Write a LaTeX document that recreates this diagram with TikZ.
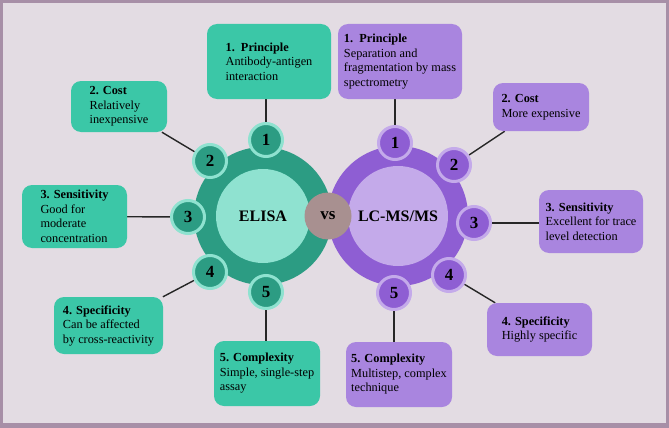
\documentclass[tikz,border=0pt]{standalone}
\usepackage{fontspec}
\setmainfont{Liberation Serif}
\usetikzlibrary{backgrounds}

\definecolor{frameclr}{RGB}{167,143,167}
\definecolor{bgclr}{RGB}{227,220,227}
\definecolor{elbox}{RGB}{59,199,167}
\definecolor{elring}{RGB}{44,156,131}
\definecolor{elcore}{RGB}{143,226,208}
\definecolor{lcbox}{RGB}{169,133,223}
\definecolor{lcring}{RGB}{142,94,211}
\definecolor{lccore}{RGB}{196,170,234}
\definecolor{vsclr}{RGB}{168,144,144}

\begin{document}
\begin{tikzpicture}[
    x=1pt, y=-1pt,
    elcard/.style={fill=elbox, rounded corners=10pt, align=left, inner sep=0pt,
        font=\fontsize{12.3}{14.5}\selectfont},
    lccard/.style={fill=lcbox, rounded corners=10pt, align=left, inner sep=0pt,
        font=\fontsize{12.3}{14.5}\selectfont},
    elnum/.style={circle, fill=elring, draw=elcore, line width=3pt, minimum size=33pt,
        inner sep=0pt, font=\bfseries\fontsize{17}{17}\selectfont},
    lcnum/.style={circle, fill=lcring, draw=lccore, line width=3pt, minimum size=33pt,
        inner sep=0pt, font=\bfseries\fontsize{17}{17}\selectfont},
    link/.style={line width=1.4pt, draw=black!85}
]
\useasboundingbox (0,0) rectangle (669,428);

% Central circles
\node[circle, fill=elring, minimum size=138pt, inner sep=0pt] (elisa_ring) at (263,216) {};
\node[circle, fill=elcore, minimum size=94pt, inner sep=0pt, font=\bfseries\fontsize{16}{16}\selectfont] (elisa) at (263,216) {ELISA};
\node[circle, fill=lcring, minimum size=140pt, inner sep=0pt] (lcms_ring) at (398,216) {};
\node[circle, fill=lccore, minimum size=100pt, inner sep=0pt, font=\bfseries\fontsize{16}{16}\selectfont] (lcms) at (398,216) {LC-MS/MS};
\node[circle, fill=vsclr, minimum size=47pt, inner sep=0pt, font=\bfseries\fontsize{17}{17}\selectfont] (vs) at (328,216) {vs};

% Numbered markers
\node[elnum] (en1) at (266,140) {1};
\node[elnum] (en2) at (210,161) {2};
\node[elnum] (en3) at (188,217) {3};
\node[elnum] (en4) at (210,272) {4};
\node[elnum] (en5) at (266,292) {5};

\node[lcnum] (ln1) at (395,143) {1};
\node[lcnum] (ln2) at (454,165) {2};
\node[lcnum] (ln3) at (474,223) {3};
\node[lcnum] (ln4) at (449,275) {4};
\node[lcnum] (ln5) at (394,293) {5};

% ELISA cards
\node[elcard, minimum width=124pt, minimum height=75pt] (ep1) at (269,61.5)
    {\textbf{1.\enspace Principle}\\Antibody-antigen\\interaction};
\node[elcard, minimum width=96pt, minimum height=51pt] (ep2) at (119,106.5)
    {\textbf{2. Cost}\\Relatively\\inexpensive};
\node[elcard, minimum width=105pt, minimum height=63pt] (ep3) at (74.5,216.5)
    {\textbf{3. Sensitivity}\\Good for\\moderate\\concentration};
\node[elcard, minimum width=109pt, minimum height=57pt] (ep4) at (108.5,325.5)
    {\textbf{4. Specificity}\\Can be affected\\by cross-reactivity};
\node[elcard, minimum width=106pt, minimum height=65pt] (ep5) at (267,373.5)
    {\textbf{5. Complexity}\\Simple, single-step\\assay};

% LC-MS/MS cards
\node[lccard, minimum width=124pt, minimum height=75pt] (lp1) at (400,61.5)
    {\textbf{1.\enspace Principle}\\Separation and\\fragmentation by mass\\spectrometry};
\node[lccard, minimum width=96pt, minimum height=48pt] (lp2) at (541,107)
    {\textbf{2. Cost}\\More expensive};
\node[lccard, minimum width=104pt, minimum height=63pt] (lp3) at (591,221.5)
    {\textbf{3. Sensitivity}\\Excellent for trace\\level detection};
\node[lccard, minimum width=105pt, minimum height=53pt] (lp4) at (539.5,329.5)
    {\textbf{4. Specificity}\\Highly specific};
\node[lccard, minimum width=106pt, minimum height=65pt] (lp5) at (399,374.5)
    {\textbf{5. Complexity}\\Multistep, complex\\technique};

% Frame and connectors
\begin{pgfonlayer}{background}
\fill[frameclr] (0,0) rectangle (669,428);
\fill[bgclr] (3,3) rectangle (666,423);
\draw[link] (en1) -- (en1 |- ep1.south);
\draw[link] (en2) -- (ep2);
\draw[link] (en3) -- (ep3);
\draw[link] (en4) -- (ep4);
\draw[link] (en5) -- (en5 |- ep5.north);
\draw[link] (ln1) -- (ln1 |- lp1.south);
\draw[link] (ln2) -- (lp2);
\draw[link] (ln3) -- (ln3 -| lp3.west);
\draw[link] (ln4) -- (lp4);
\draw[link] (ln5) -- (ln5 |- lp5.north);
\end{pgfonlayer}

\end{tikzpicture}
\end{document}
